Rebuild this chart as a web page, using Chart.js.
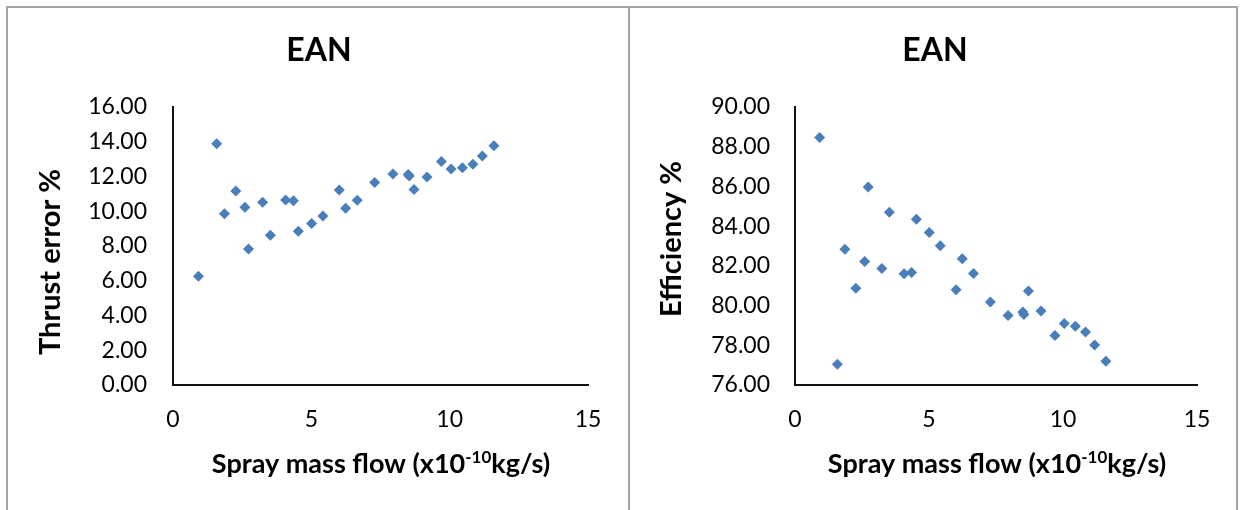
<!DOCTYPE html>
<html>
<head>
<meta charset="utf-8">
<script src="https://cdn.jsdelivr.net/npm/chart.js@4.4.0/dist/chart.umd.min.js"></script>
<style>
  html, body { margin: 0; padding: 0; background: #fff; overflow: hidden; }
  body { width: 1246px; height: 510px; position: relative; font-family: Lato, sans-serif; }
  .panel { position: absolute; top: 0; width: 623px; height: 510px; }
  .frame { position: absolute; left: 6px; top: 6px; width: 1228px; height: 600px; border: 2px solid #a3a3a3; pointer-events: none; }
  .divider { position: absolute; left: 628px; top: 6px; width: 2px; height: 600px; background: #a3a3a3; pointer-events: none; }
</style>
</head>
<body>
<div class="panel" style="left:0"><canvas id="thrustChart" width="623" height="510"></canvas></div>
<div class="panel" style="left:623px"><canvas id="effChart" width="623" height="510"></canvas></div>
<div class="frame"></div>
<div class="divider"></div>
<script>
// Spray mass flow (x10^-10 kg/s), shared by both panels
const massFlow = [0.92, 1.58, 1.86, 2.27, 2.60, 2.73, 3.24, 3.52, 4.07, 4.35, 4.53, 5.01, 5.42, 6.01,
  6.24, 6.66, 7.29, 7.95, 8.50, 8.54, 8.71, 9.18, 9.70, 10.05, 10.46, 10.84, 11.18, 11.60];
const thrustError = [6.26, 13.89, 9.85, 11.17, 10.23, 7.83, 10.52, 8.62, 10.65, 10.61, 8.85, 9.29, 9.73, 11.22,
  10.17, 10.63, 11.65, 12.14, 12.11, 12.03, 11.25, 11.97, 12.86, 12.43, 12.51, 12.70, 13.18, 13.77];
const efficiency = [88.46, 77.05, 82.84, 80.87, 82.22, 85.97, 81.87, 84.70, 81.60, 81.67, 84.35, 83.68, 83.01, 80.80,
  82.36, 81.62, 80.18, 79.50, 79.68, 79.55, 80.73, 79.73, 78.49, 79.10, 78.96, 78.67, 78.02, 77.20];

const xRange = [0, 15, 5];          // min, max, step
const thrustRange = [0, 16, 2];
const effRange = [76, 90, 2];

const chartTitle = 'EAN';
const xTitle = ['Spray mass flow (x10', '-10', 'kg/s)'];
const thrustTitle = 'Thrust error %';
const effTitle = 'Efficiency %';

const MARKER = '#4a7ebb';
const FONT = 'Lato, "Open Sans", sans-serif';

// titles: chart title, rotated y title, x title with superscript
const panelText = {
  id: 'panelText',
  afterDraw(chart, args, o) {
    const ctx = chart.ctx;
    ctx.save();
    ctx.fillStyle = '#000';
    ctx.textAlign = 'center';
    ctx.textBaseline = 'middle';
    ctx.font = `bold 32px ${FONT}`;
    ctx.fillText(o.title, o.titleX, o.titleY);

    ctx.save();
    ctx.font = `bold 29px ${FONT}`;
    ctx.translate(o.yTitleX, o.yTitleY);
    ctx.rotate(-Math.PI / 2);
    ctx.fillText(o.yTitle, 0, 0);
    ctx.restore();

    // x title, pieces laid out left to right
    const big = `bold 27px ${FONT}`, small = `bold 17px ${FONT}`;
    ctx.textAlign = 'left';
    ctx.textBaseline = 'alphabetic';
    ctx.font = big; const w0 = ctx.measureText(xTitle[0]).width;
    ctx.font = small; const w1 = ctx.measureText(xTitle[1]).width;
    ctx.font = big; const w2 = ctx.measureText(xTitle[2]).width;
    let x = o.xTitleX - (w0 + w1 + w2) / 2;
    ctx.font = big; ctx.fillText(xTitle[0], x, o.xTitleY); x += w0;
    ctx.font = small; ctx.fillText(xTitle[1], x, o.xTitleY - 10); x += w1;
    ctx.font = big; ctx.fillText(xTitle[2], x, o.xTitleY);
    ctx.restore();
  }
};

function makeChart(id, values, range, text, areaLeft, padRight, tickPad) {
  const points = massFlow.map((m, i) => ({ x: m, y: values[i] }));
  return new Chart(document.getElementById(id), {
    type: 'scatter',
    data: {
      datasets: [{
        data: points,
        pointStyle: 'rectRot',
        pointRadius: 5.5,
        pointHoverRadius: 5.5,
        backgroundColor: MARKER,
        borderColor: MARKER,
        borderWidth: 0
      }]
    },
    plugins: [panelText],
    options: {
      responsive: false,
      animation: false,
      layout: { padding: { left: 0, top: 107, right: padRight, bottom: 0 } },
      plugins: {
        legend: { display: false },
        tooltip: { enabled: false },
        panelText: text
      },
      scales: {
        x: {
          type: 'linear',
          min: xRange[0], max: xRange[1],
          ticks: { stepSize: xRange[2], color: '#000', font: { family: FONT, size: 23 }, padding: 21 },
          grid: { display: false, drawTicks: false },
          border: { display: true, color: '#111', width: 2 },
          afterFit: s => { s.height = 125; }
        },
        y: {
          min: range[0], max: range[1],
          ticks: {
            stepSize: range[2], color: '#000', font: { family: FONT, size: 23 }, padding: tickPad,
            callback: v => Number(v).toFixed(2)
          },
          grid: { display: false, drawTicks: false },
          border: { display: true, color: '#111', width: 2 },
          afterFit: s => { s.width = areaLeft; }
        }
      }
    }
  });
}

makeChart('thrustChart', thrustError, thrustRange, {
  title: chartTitle, titleX: 319, titleY: 51,
  yTitle: thrustTitle, yTitleX: 51, yTitleY: 262,
  xTitleX: 381, xTitleY: 473
}, 173, 35, 26);

makeChart('effChart', efficiency, effRange, {
  title: chartTitle, titleX: 312, titleY: 51,
  yTitle: effTitle, yTitleX: 49, yTitleY: 239,
  xTitleX: 374, xTitleY: 473
}, 172, 49, 25);
</script>
</body>
</html>
